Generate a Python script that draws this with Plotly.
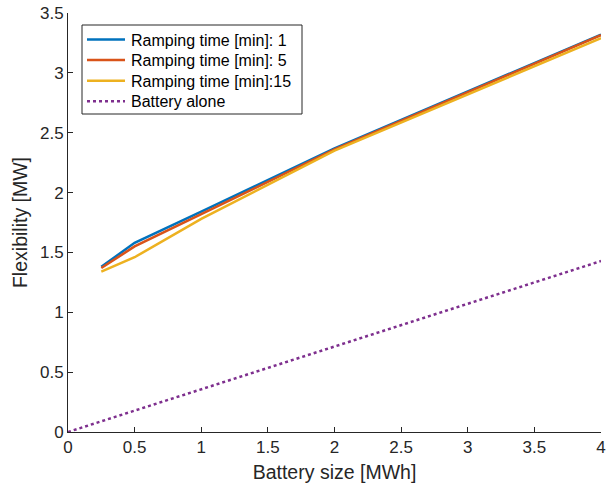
import plotly.graph_objects as go

x_ramp = [0.25, 0.5, 1, 2, 4]
ramp_1 = [1.38, 1.58, 1.84, 2.37, 3.32]
ramp_5 = [1.37, 1.55, 1.82, 2.36, 3.315]
ramp_15 = [1.34, 1.46, 1.78, 2.35, 3.29]
x_batt = [0, 0.25, 0.5, 1, 2, 4]
batt = [0, 0.089, 0.178, 0.357, 0.714, 1.428]

names = ["Ramping time [min]: 1", "Ramping time [min]: 5", "Ramping time [min]:15", "Battery alone"]
colors = ["#0072BD", "#D95319", "#EDB120", "#7E2F8E"]
dashes = ["solid", "solid", "solid", "dot"]
x_ticks = [0, 0.5, 1, 1.5, 2, 2.5, 3, 3.5, 4]
x_ticklabels = ["0", "0.5", "1", "1.5", "2", "2.5", "3", "3.5", "4"]
y_ticks = [0, 0.5, 1, 1.5, 2, 2.5, 3, 3.5]
y_ticklabels = ["0", "0.5", "1", "1.5", "2", "2.5", "3", "3.5"]

W, H = 608, 491
ML, MR, MT, MB = 68, 7, 13, 59
PW, PH = W - ML - MR, H - MT - MB


def px_x(p):
    return (p - ML) / PW


def px_y(p):
    return (H - MB - p) / PH


fig = go.Figure()
for ys, n, c in zip([ramp_1, ramp_5, ramp_15], names[:3], colors[:3]):
    fig.add_trace(go.Scatter(x=x_ramp, y=ys, mode="lines", name=n, showlegend=False,
                             line=dict(color=c, width=2.5)))
fig.add_trace(go.Scatter(x=x_batt, y=batt, mode="lines", name=names[3], showlegend=False,
                         line=dict(color=colors[3], width=2.5, dash="dot")))

axcol = "#262626"

# legend drawn as layout shapes + text (MATLAB-style compact legend)
shapes = [dict(type="rect", xref="paper", yref="paper",
               x0=px_x(82), x1=px_x(302), y0=px_y(114), y1=px_y(25),
               line=dict(color=axcol, width=1), fillcolor="white", layer="above")]
annotations = []
for i, (n, c, d) in enumerate(zip(names, colors, dashes)):
    cy = 39.5 + i * 20.6
    shapes.append(dict(type="line", xref="paper", yref="paper",
                       x0=px_x(87), x1=px_x(125), y0=px_y(cy), y1=px_y(cy),
                       line=dict(color=c, width=2.5, dash=d), layer="above"))
    annotations.append(dict(xref="paper", yref="paper", x=px_x(129), y=px_y(cy + 0.5),
                            xanchor="left", yanchor="middle", text=n, showarrow=False,
                            font=dict(size=16, color="#000000")))

fig.update_layout(
    width=W, height=H,
    margin=dict(l=ML, r=MR, t=MT, b=MB),
    paper_bgcolor="white", plot_bgcolor="white",
    font=dict(family="Liberation Sans, Arial, sans-serif", size=18, color=axcol),
    showlegend=False,
    shapes=shapes, annotations=annotations,
    xaxis=dict(range=[0, 4], tickvals=x_ticks, ticktext=x_ticklabels,
               showline=True, linecolor=axcol, linewidth=1, ticks="inside",
               ticklen=5, tickcolor=axcol, showgrid=False, zeroline=False,
               automargin=False, tickfont=dict(size=17),
               title=dict(text="Battery size [MWh]", font=dict(size=19.5), standoff=8)),
    yaxis=dict(range=[0, 3.5], tickvals=y_ticks, ticktext=y_ticklabels,
               showline=True, linecolor=axcol, linewidth=1, ticks="inside",
               ticklen=5, tickcolor=axcol, showgrid=False, zeroline=False,
               automargin=False, tickfont=dict(size=17),
               title=dict(text="Flexibility [MW]", font=dict(size=19.5), standoff=7)),
)
fig.write_html("out.html", config={"displayModeBar": False},
               post_script="document.body.style.margin='0';document.body.style.padding='0';")
